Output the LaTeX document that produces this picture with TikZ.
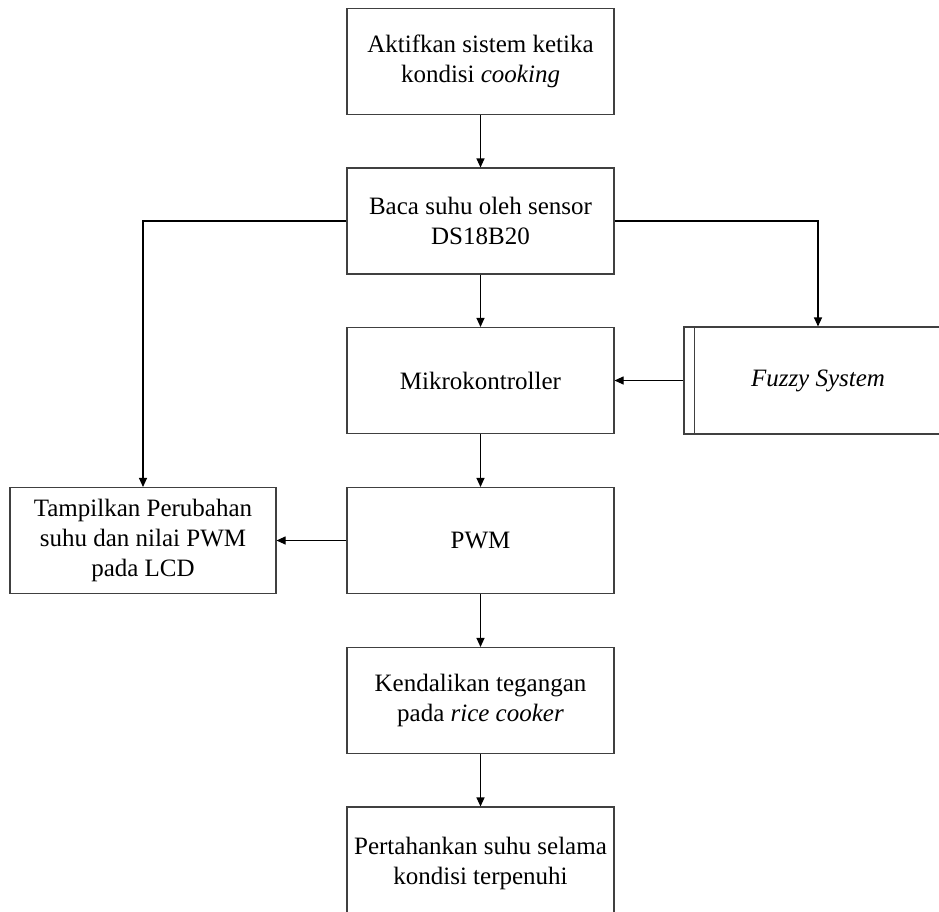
\documentclass[tikz,border=0pt]{standalone}
\usepackage{fontspec}
\setmainfont{Liberation Serif}
\usetikzlibrary{arrows.meta}
\begin{document}
\begin{tikzpicture}[x=1pt,y=-1pt,
  box/.style={draw=black!75, line width=1.1pt, minimum width=267pt, minimum height=106pt,
    align=center, inner sep=0pt, font=\fontsize{25}{30}\selectfont},
  conn/.style={draw=black, line width=1.1pt, -{Triangle[length=9pt,width=8pt]}}]
\useasboundingbox (0,0) rectangle (939,911);
\clip (0,0) rectangle (939,911);
\node[box] (b1) at (480.5,61.5) {Aktifkan sistem ketika\\kondisi \textit{cooking}};
\node[box] (b2) at (480.5,221) {Baca suhu oleh sensor\\DS18B20};
\node[box] (b3) at (480.5,380.5) {Mikrokontroller};
\node[box] (b4) at (480.5,540.5) {PWM};
\node[box] (b5) at (480.5,700.5) {Kendalikan tegangan\\pada \textit{rice cooker}};
\node[box, minimum height=112pt] (b6) at (480.5,863) {Pertahankan suhu selama\\kondisi terpenuhi};
\node[box, minimum width=266pt] (lcd) at (143,540.5) {Tampilkan Perubahan\\suhu dan nilai PWM\\pada LCD};
\node[box, minimum width=268pt, minimum height=107pt] (fz) at (818,380.5) {\textit{Fuzzy System}};
\draw[draw=black!75, line width=1.1pt] ([xshift=11pt]fz.north west) -- ([xshift=11pt]fz.south west);
\draw[conn] (b1) -- (b2);
\draw[conn] (b2) -- (b3);
\draw[conn] (b3) -- (b4);
\draw[conn] (b4) -- (b5);
\draw[conn] (b5) -- (b6);
\draw[conn] (b2.west) -| (lcd.north);
\draw[conn] (b2.east) -| (fz.north);
\draw[conn] (fz.west) -- (b3.east);
\draw[conn] (b4.west) -- (lcd.east);
\end{tikzpicture}
\end{document}
